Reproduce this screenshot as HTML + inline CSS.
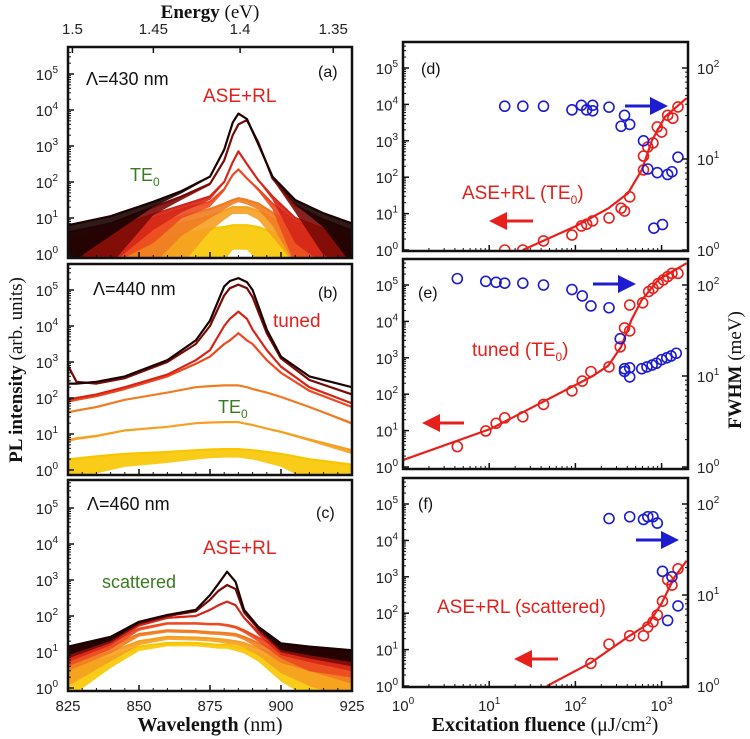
<!DOCTYPE html>
<html><head><meta charset="utf-8"><style>
html,body{margin:0;padding:0;background:#fff;}
svg{display:block;}
</style></head><body>
<svg id="fig" width="750" height="739" viewBox="0 0 750 739" xmlns="http://www.w3.org/2000/svg" font-family="Liberation Sans, Arial, sans-serif">
<defs>
<marker id="ar" markerWidth="6" markerHeight="6" refX="5" refY="3" orient="auto"><path d="M0,0 L6,3 L0,6 z" fill="#e8201c"/></marker>
<marker id="ab" markerWidth="6" markerHeight="6" refX="5" refY="3" orient="auto"><path d="M0,0 L6,3 L0,6 z" fill="#1c1cd0"/></marker>
</defs>
<g id="spectra"></g>
<g id="fluence"></g>

<g>
<line x1="533" y1="221" x2="492" y2="221" stroke="#e8201c" stroke-width="3" marker-end="url(#ar)"></line>
<line x1="625" y1="106" x2="665" y2="106" stroke="#1c1cd0" stroke-width="3" marker-end="url(#ab)"></line>
<line x1="464" y1="423" x2="425" y2="423" stroke="#e8201c" stroke-width="3" marker-end="url(#ar)"></line>
<line x1="593" y1="284" x2="633" y2="284" stroke="#1c1cd0" stroke-width="3" marker-end="url(#ab)"></line>
<line x1="558" y1="659" x2="517" y2="659" stroke="#e8201c" stroke-width="3" marker-end="url(#ar)"></line>
<line x1="636" y1="540" x2="676" y2="540" stroke="#1c1cd0" stroke-width="3" marker-end="url(#ab)"></line>
</g>

<g>
<text x="86" y="85" font-size="18" fill="#111">Λ=430 nm</text>
<text x="318" y="77" font-size="16" fill="#111">(a)</text>
<text x="203" y="102" font-size="19" fill="#e3201b">ASE+RL</text>
<text x="130" y="181" font-size="18" fill="#3a7a20">TE<tspan font-size="12" dy="5">0</tspan></text>
<text x="93" y="295" font-size="18" fill="#111">Λ=440 nm</text>
<text x="318" y="298" font-size="16" fill="#111">(b)</text>
<text x="273" y="327" font-size="19" fill="#e3201b">tuned</text>
<text x="218" y="413" font-size="18" fill="#3a7a20">TE<tspan font-size="12" dy="5">0</tspan></text>
<text x="87" y="510" font-size="18" fill="#111">Λ=460 nm</text>
<text x="316" y="518" font-size="16" fill="#111">(c)</text>
<text x="203" y="554" font-size="19" fill="#e3201b">ASE+RL</text>
<text x="102" y="588" font-size="18" fill="#3a7a20">scattered</text>
<text x="421" y="74" font-size="16" fill="#111">(d)</text>
<text x="462" y="199" font-size="19" fill="#e3201b">ASE+RL (TE<tspan font-size="12" dy="5">0</tspan><tspan dy="-5">)</tspan></text>
<text x="418" y="298" font-size="16" fill="#111">(e)</text>
<text x="472" y="356" font-size="19" fill="#e3201b">tuned (TE<tspan font-size="12" dy="5">0</tspan><tspan dy="-5">)</tspan></text>
<text x="418" y="509" font-size="16" fill="#111">(f)</text>
<text x="437" y="613" font-size="19" fill="#e3201b">ASE+RL (scattered)</text>
</g>

<g font-family="Liberation Serif, Times New Roman, serif" fill="#111">
<text x="210" y="18" font-size="19" text-anchor="middle"><tspan font-weight="bold">Energy</tspan> (eV)</text>
<text x="210" y="731" font-size="20" text-anchor="middle"><tspan font-weight="bold">Wavelength</tspan> (nm)</text>
<text x="545" y="731" font-size="20" text-anchor="middle"><tspan font-weight="bold">Excitation fluence</tspan> (μJ/cm<tspan font-size="12" dy="-7">2</tspan><tspan dy="7">)</tspan></text>
<text transform="translate(22,370) rotate(-90)" font-size="19" text-anchor="middle"><tspan font-weight="bold">PL intensity</tspan> (arb. units)</text>
<text transform="translate(741,370) rotate(-90)" font-size="19" text-anchor="middle"><tspan font-weight="bold">FWHM</tspan> (meV)</text>
</g>
</svg>
<script>
// ---------- Spectra data (log10 intensity) ----------
const wavelengthsA = [825,840,855,865,875,880,883,885,888,892,897,905,915,925];
const spectraA = [
  [0,0.1,0.35,0.55,0.7,0.75,0.8,0.8,0.8,0.75,0.6,0.3,0.1,0],
  [0.1,0.3,0.6,0.85,1.05,1.2,1.3,1.3,1.3,1.2,1.0,0.5,0.25,0.1],
  [0.2,0.4,0.8,1.05,1.25,1.4,1.5,1.55,1.5,1.4,1.15,0.7,0.4,0.2],
  [0.3,0.6,1.0,1.25,1.45,1.8,2.2,2.35,2.1,1.8,1.4,0.9,0.6,0.35],
  [0.4,0.7,1.1,1.35,1.6,2.0,2.55,2.85,2.5,2.05,1.6,1.0,0.7,0.45],
  [0.6,0.85,1.3,1.6,1.95,2.6,3.3,3.6,3.72,3.1,2.1,1.35,0.95,0.65],
  [0.8,1.05,1.45,1.75,2.15,2.9,3.65,3.9,3.75,3.05,2.15,1.5,1.13,0.85]
];
const noiseCountsA = [5,7,8,8,8,8,8];
const wavelengthsB = [825,828,835,845,860,870,875,880,882,885,888,890,895,900,910,925];
const spectraB = [
  [0.3,0.32,0.38,0.45,0.5,0.55,0.57,0.58,0.58,0.58,0.56,0.55,0.5,0.45,0.3,0.15],
  [0.83,0.88,0.95,1.1,1.2,1.3,1.32,1.33,1.33,1.33,1.28,1.25,1.15,1.06,0.85,0.55],
  [1.6,1.65,1.75,1.95,2.15,2.3,2.33,2.35,2.35,2.35,2.3,2.25,2.15,2.03,1.75,1.3],
  [1.9,1.95,2.05,2.25,2.6,2.95,3.15,3.5,3.6,3.8,3.6,3.5,3.05,2.7,2.2,1.75],
  [1.95,2.0,2.1,2.3,2.65,3.05,3.33,4.0,4.2,4.4,4.2,3.9,3.33,2.87,2.3,1.85],
  [2.9,2.45,2.4,2.55,3.0,3.5,4.0,4.85,5.05,5.15,5.05,4.8,3.8,3.1,2.5,2.1],
  [2.4,2.4,2.45,2.6,3.05,3.6,4.15,5.1,5.25,5.33,5.22,5.0,3.9,3.15,2.6,2.3]
];
const noiseCountsB = [1.6,0.8,2,4,4,4,4];
const wavelengthsC = [825,840,850,860,870,875,878,881,884,887,892,900,910,925];
const spectraC = [
  [0.6,0.85,1.15,1.25,1.25,1.22,1.2,1.2,1.15,1.1,0.95,0.7,0.6,0.5],
  [0.75,1.0,1.3,1.42,1.4,1.38,1.36,1.33,1.3,1.25,1.1,0.85,0.75,0.65],
  [0.9,1.15,1.5,1.6,1.58,1.55,1.54,1.52,1.5,1.42,1.25,1.0,0.9,0.8],
  [1.0,1.25,1.65,1.8,1.8,1.78,1.78,1.75,1.7,1.6,1.4,1.1,0.95,0.9],
  [1.05,1.33,1.75,1.95,2.0,2.17,2.3,2.4,2.3,1.95,1.55,1.15,1.05,0.95],
  [1.1,1.38,1.8,2.0,2.13,2.45,2.7,2.86,2.75,2.1,1.65,1.2,1.1,1.0],
  [1.15,1.42,1.84,2.03,2.17,2.58,2.9,3.23,2.95,2.17,1.7,1.24,1.15,1.05]
];
const noiseCountsC = [3.5,4.5,5,6,6,6,6];
const spectraColors = ['#f7c600','#f5a020','#f07c22','#ec4a20','#d42618','#7a0a06','#1a0202'];

// ---------- Fluence data (log10 fluence, log10 intensity, log10 FWHM) ----------
const dRedLogF = [1.18,1.39,1.63,1.96,2.07,2.13,2.2,2.39,2.53,2.57,2.63,2.79,2.79,2.84,2.9,2.95,3.0,3.07,3.13,3.19];
const dRedLogI = [0,0,0.25,0.41,0.66,0.71,0.8,0.88,1.15,1.07,1.46,2.2,2.58,2.83,2.94,3.38,3.24,3.7,3.62,3.93];
const dFitLogF = [1.39,1.99,2.38,2.61,2.77,2.89,3.04,3.29];
const dFitLogI = [0,0.64,1.14,1.56,2.2,3.02,3.66,4.17];
const dBlueLogF = [1.18,1.39,1.63,1.96,2.07,2.13,2.2,2.2,2.39,2.57,2.53,2.63,2.79,2.84,2.95,3.07,3.12,3.19,2.91,3.01];
const dBlueLogW = [1.58,1.58,1.58,1.54,1.59,1.54,1.59,1.53,1.57,1.48,1.36,1.38,1.2,0.89,0.85,0.83,0.86,1.02,0.24,0.28];

const eRedLogF = [0.63,0.96,1.08,1.18,1.39,1.63,1.96,2.08,2.18,2.39,2.52,2.57,2.63,2.63,2.78,2.85,2.9,2.96,3.02,3.07,3.12,3.19];
const eRedLogI = [0.56,0.99,1.2,1.35,1.38,1.72,2.09,2.36,2.62,2.75,3.3,3.82,3.74,4.45,4.51,4.82,4.91,5.04,5.14,5.23,5.32,5.32];
const eFitLogF = [0,1.02,2.04,2.2,2.38,2.53,2.65,2.77,2.96,3.29];
const eFitLogI = [0.19,1.05,2.3,2.5,2.78,3.3,4.04,4.59,5.14,5.6];
const eBlueLogF = [0.63,0.96,1.08,1.18,1.39,1.63,1.96,2.08,2.18,2.39,2.52,2.63,2.57,2.63,2.57,2.77,2.83,2.89,2.94,3.0,3.06,3.11,3.17];
const eBlueLogW = [2.07,2.04,2.03,2.02,2.02,2.0,1.95,1.88,1.77,1.75,1.41,1.09,1.08,0.99,1.05,1.08,1.1,1.12,1.14,1.18,1.2,1.22,1.25];

const fRedLogF = [2.18,2.39,2.63,2.79,2.84,2.9,2.95,3.01,3.07,3.12,3.19];
const fRedLogI = [0.62,1.15,1.38,1.38,1.62,1.76,1.95,2.33,2.92,2.77,3.22];
const fFitLogF = [1.67,2.18,2.61,2.85,3.0,3.15,3.29];
const fFitLogI = [0,0.64,1.35,1.72,2.27,2.99,3.44];
const fBlueLogF = [2.39,2.63,2.79,2.84,2.9,2.95,3.01,3.12,3.19,3.07];
const fBlueLogW = [1.84,1.86,1.83,1.86,1.86,1.79,1.26,1.2,0.88,0.72];

const wlTicks = [825,850,875,900,925];
const energyTicks = [1.5,1.45,1.4,1.35];
const energyTickLabels = ['1.5','1.45','1.4','1.35'];
const decadeExps = [0,1,2,3,4,5];
const fluenceExps = [0,1,2,3];
const fwhmExps = [0,1,2];

// ---------- helpers ----------
const NS='http://www.w3.org/2000/svg';
function mk(tag, attrs, parent){const e=document.createElementNS(NS,tag);for(const k in attrs)e.setAttribute(k,attrs[k]);(parent||document.getElementById('fig')).appendChild(e);return e;}
function powLabel(parent,x,y,exp,anchor){
  const t=mk('text',{x:x,y:y,'font-size':15,fill:'#222','text-anchor':anchor},parent);
  
  
  t.appendChild(document.createTextNode('10'));
  const s=document.createElementNS(NS,'tspan');s.setAttribute('dy','-7');s.setAttribute('font-size','10');s.textContent=String(exp);t.appendChild(s);
  return t;
}

// ---------- spectra panels ----------
const SX0=68, SX1=352;
const xW = w => SX0 + (w-825)*(SX1-SX0)/100;
const spPanels = [
  {id:'a', top:47, bot:258, zero:254, wl:wavelengthsA, data:spectraA, noise:noiseCountsA},
  {id:'b', top:264, bot:475, zero:470, wl:wavelengthsB, data:spectraB, noise:noiseCountsB},
  {id:'c', top:480, bot:691, zero:688, wl:wavelengthsC, data:spectraC, noise:noiseCountsC}
];
const DEC=36;
const gS=document.getElementById('spectra');
spPanels.forEach(p=>{
  const g=mk('g',{},gS);
  
  
  const clipId='clip'+p.id;
  const cp=mk('clipPath',{id:clipId},g);mk('rect',{x:SX0,y:p.top,width:SX1-SX0,height:p.bot-p.top},cp);
  const yL = v => p.zero - v*DEC;
  const cg=mk('g',{'clip-path':'url(#'+clipId+')'},g);
  p.data.forEach((ser,i)=>{
    const col=spectraColors[i];
    const up=ser.map((v,j)=>[xW(p.wl[j]),yL(v)]);
    const lo=ser.map((v,j)=>{const c=Math.pow(10,v)-p.noise[i];return [xW(p.wl[j]),yL(c>0.5?Math.log10(c):-0.3)];}).reverse();
    const band=mk('polygon',{points:up.concat(lo).map(q=>q.join(',')).join(' '),fill:col,opacity:0.9},cg);
    
    
    const line=mk('polyline',{points:up.map(q=>q.join(',')).join(' '),fill:'none',stroke:col,'stroke-width':2.2,'stroke-linejoin':'round'},cg);
    
    
  });
  const box=mk('rect',{x:SX0,y:p.top,width:SX1-SX0,height:p.bot-p.top,fill:'none',stroke:'#111','stroke-width':2.5},g);
  
  
  decadeExps.forEach(e=>{
    const y=yL(e);
    mk('line',{x1:SX0,x2:SX0+6,y1:y,y2:y,stroke:'#111','stroke-width':1.5},g);
    for(let m=2;m<10;m++){const ym=yL(e+Math.log10(m)); if(ym>p.top+2) mk('line',{x1:SX0,x2:SX0+3,y1:ym,y2:ym,stroke:'#111','stroke-width':1},g);}
    powLabel(g,58,y+6,e,'end');
  });
  for(let w=830;w<925;w+=5){
    const major = w%25===0;
    mk('line',{x1:xW(w),x2:xW(w),y1:p.bot,y2:p.bot-(major?6:3),stroke:'#111','stroke-width':major?1.5:1},g);
  }
});
energyTicks.forEach((E,i)=>{
  const x=xW(1239.84/E);
  mk('line',{x1:x,x2:x,y1:47,y2:53,stroke:'#111','stroke-width':1.5},gS);
  const t=mk('text',{x:x,y:34,'font-size':15,fill:'#222','text-anchor':'middle'},gS);
  
  
  t.textContent=energyTickLabels[i];
});
wlTicks.forEach(w=>{
  const t=mk('text',{x:xW(w),y:711,'font-size':15,fill:'#222','text-anchor':'middle'},gS);
  
  
  t.textContent=String(w);
});

// ---------- fluence panels ----------
const FX0=403, FX1=688, FPD=86.2;
const xF = l => FX0 + l*FPD;
const flPanels = [
  {id:'d', top:42, bot:251, zero:250, rl:dRedLogF, ri:dRedLogI, fl:dFitLogF, fi:dFitLogI, bl:dBlueLogF, bw:dBlueLogW},
  {id:'e', top:259, bot:469, zero:467, rl:eRedLogF, ri:eRedLogI, fl:eFitLogF, fi:eFitLogI, bl:eBlueLogF, bw:eBlueLogW},
  {id:'f', top:478, bot:687, zero:686, rl:fRedLogF, ri:fRedLogI, fl:fFitLogF, fi:fFitLogI, bl:fBlueLogF, bw:fBlueLogW}
];
const LDEC=36.4, RDEC=91;
const gF=document.getElementById('fluence');
flPanels.forEach(p=>{
  const g=mk('g',{},gF);
  
  
  const yI = v => p.zero - v*LDEC;
  const yWd = v => p.zero - v*RDEC;
  const clipId='clip'+p.id;
  const cp=mk('clipPath',{id:clipId},g);mk('rect',{x:FX0,y:p.top,width:FX1-FX0,height:p.bot-p.top},cp);
  const cg=mk('g',{'clip-path':'url(#'+clipId+')'},g);
  const fit=mk('polyline',{points:p.fl.map((l,i)=>xF(l)+','+yI(p.fi[i])).join(' '),fill:'none',stroke:'#e8201c','stroke-width':2.2},cg);
  
  
  p.rl.forEach((l,i)=>{
    const c=mk('circle',{cx:xF(l),cy:yI(p.ri[i]),r:5,fill:'none',stroke:'#e8201c','stroke-width':1.6},cg);
    
    
  });
  p.bl.forEach((l,i)=>{
    const c=mk('circle',{cx:xF(l),cy:yWd(p.bw[i]),r:5,fill:'none',stroke:'#1c1cd0','stroke-width':1.6},g);
    
    
  });
  const box=mk('rect',{x:FX0,y:p.top,width:FX1-FX0,height:p.bot-p.top,fill:'none',stroke:'#111','stroke-width':2.5},g);
  
  
  decadeExps.forEach(e=>{
    const y=yI(e);
    mk('line',{x1:FX0,x2:FX0+6,y1:y,y2:y,stroke:'#111','stroke-width':1.5},g);
    for(let m=2;m<10;m++){const ym=yI(e+Math.log10(m)); if(ym>p.top+2) mk('line',{x1:FX0,x2:FX0+3,y1:ym,y2:ym,stroke:'#111','stroke-width':1},g);}
    powLabel(g,398,y+6,e,'end');
  });
  fwhmExps.forEach(e=>{
    const y=yWd(e);
    mk('line',{x1:FX1,x2:FX1-6,y1:y,y2:y,stroke:'#111','stroke-width':1.5},g);
    for(let m=2;m<10;m++){const ym=yWd(e+Math.log10(m)); if(ym>p.top+2&&e<2) mk('line',{x1:FX1,x2:FX1-3,y1:ym,y2:ym,stroke:'#111','stroke-width':1},g);}
    powLabel(g,697,y+6,e,'start');
  });
  fluenceExps.forEach(e=>{
    mk('line',{x1:xF(e),x2:xF(e),y1:p.bot,y2:p.bot-6,stroke:'#111','stroke-width':1.5},g);
    for(let m=2;m<10;m++){const x=xF(e+Math.log10(m)); if(x<FX1-2) mk('line',{x1:x,x2:x,y1:p.bot,y2:p.bot-3,stroke:'#111','stroke-width':1},g);}
  });
});
fluenceExps.forEach(e=>{ powLabel(gF,xF(e),711,e,'middle'); });
</script>
</body></html>
